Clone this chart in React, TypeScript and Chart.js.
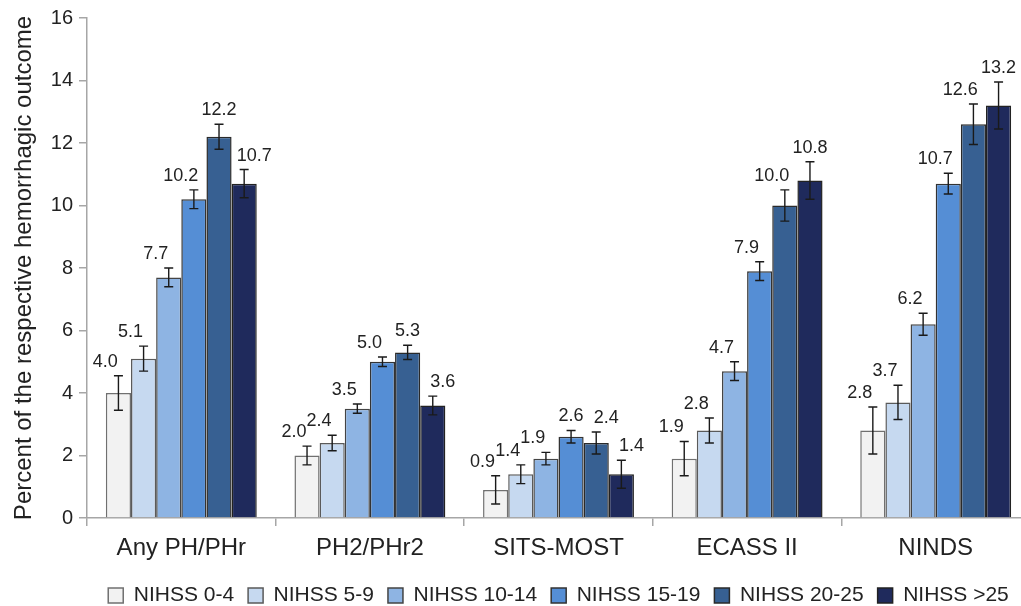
import React, { useEffect, useRef } from 'react';
import { Chart, registerables } from 'chart.js';

Chart.register(...registerables);

const categories = ['Any PH/PHr', 'PH2/PHr2', 'SITS-MOST', 'ECASS II', 'NINDS'];
const seriesLabels = ['NIHSS 0-4', 'NIHSS 5-9', 'NIHSS 10-14', 'NIHSS 15-19', 'NIHSS 20-25', 'NIHSS >25'];

const nihss0to4 = [4.0, 2.0, 0.9, 1.9, 2.8];
const nihss5to9 = [5.1, 2.4, 1.4, 2.8, 3.7];
const nihss10to14 = [7.7, 3.5, 1.9, 4.7, 6.2];
const nihss15to19 = [10.2, 5.0, 2.6, 7.9, 10.7];
const nihss20to25 = [12.2, 5.3, 2.4, 10.0, 12.6];
const nihssOver25 = [10.7, 3.6, 1.4, 10.8, 13.2];

const err0to4 = [0.55, 0.3, 0.45, 0.55, 0.75];
const err5to9 = [0.4, 0.25, 0.3, 0.4, 0.55];
const err10to14 = [0.3, 0.15, 0.2, 0.3, 0.35];
const err15to19 = [0.3, 0.15, 0.2, 0.3, 0.33];
const err20to25 = [0.4, 0.23, 0.35, 0.5, 0.65];
const errOver25 = [0.45, 0.3, 0.45, 0.6, 0.75];

const yMin = 0;
const yMax = 16;
const yStep = 2;

const seriesValues = [nihss0to4, nihss5to9, nihss10to14, nihss15to19, nihss20to25, nihssOver25];
const seriesErrors = [err0to4, err5to9, err10to14, err15to19, err20to25, errOver25];

const fillColors = ['#f2f2f2', '#c6d9f0', '#8eb4e3', '#558ed5', '#376092', '#1f2a5c'];
const edgeColors = ['#707070', '#5a5a5a', '#444444', '#333333', '#2a2a2a', '#222222'];

const errorBarsPlugin = {
  id: 'errorBarsAndLabels',
  afterDatasetsDraw(chart: any) {
    const ctx = chart.ctx;
    const yScale = chart.scales.y;
    const dsets = chart.data.datasets;
    const n = dsets.length;
    dsets.forEach((ds: any, di: number) => {
      const meta = chart.getDatasetMeta(di);
      meta.data.forEach((el: any, i: number) => {
        const v = ds.data[i];
        const e = ds.errors[i];
        const x = el.x;
        const yt = yScale.getPixelForValue(v + e);
        const yb = yScale.getPixelForValue(v - e);
        const cap = 4.5;
        ctx.save();
        ctx.strokeStyle = '#1a1a1a';
        ctx.lineWidth = 1.4;
        ctx.beginPath();
        ctx.moveTo(x, yt);
        ctx.lineTo(x, yb);
        ctx.moveTo(x - cap, yt);
        ctx.lineTo(x + cap, yt);
        ctx.moveTo(x - cap, yb);
        ctx.lineTo(x + cap, yb);
        ctx.stroke();

        const prev = di > 0 ? dsets[di - 1].data[i] : -Infinity;
        const next = di < n - 1 ? dsets[di + 1].data[i] : -Infinity;
        let dx = 0;
        if (next > v) dx = -0.52 * el.width;
        else if (prev > v) dx = 0.4 * el.width;
        ctx.fillStyle = '#222222';
        ctx.font = '18px "Liberation Sans", Arial, sans-serif';
        ctx.textAlign = 'center';
        ctx.textBaseline = 'middle';
        ctx.fillText(v.toFixed(1), x + dx, yt - 14);
        ctx.restore();
      });
    });
  },
};

export default function App() {
  const canvasRef = useRef<HTMLCanvasElement | null>(null);

  useEffect(() => {
    if (!canvasRef.current) return;
    Chart.defaults.font.family = '"Liberation Sans", Arial, sans-serif';
    Chart.defaults.color = '#222222';
    const axisColor = '#a6a6a6';
    const chart = new Chart(canvasRef.current, {
      type: 'bar',
      data: {
        labels: categories,
        datasets: seriesLabels.map((label, k) => ({
          label,
          data: seriesValues[k],
          errors: seriesErrors[k],
          backgroundColor: fillColors[k],
          borderColor: edgeColors[k],
          borderWidth: 1.5,
          categoryPercentage: 0.8,
          barPercentage: 1.0,
        })) as any,
      },
      options: {
        responsive: true,
        maintainAspectRatio: false,
        animation: false,
        layout: { padding: { top: 17, right: 2, left: 0, bottom: 0 } },
        plugins: {
          legend: {
            position: 'bottom',
            fullSize: false,
            labels: {
              boxWidth: 15,
              boxHeight: 15,
              padding: 14,
              font: { size: 21 },
              color: '#222222',
            },
          },
          tooltip: { enabled: false },
        },
        scales: {
          x: {
            grid: {
              offset: true,
              drawOnChartArea: false,
              tickLength: 8,
              color: axisColor,
              lineWidth: 1.5,
            },
            border: { color: axisColor, width: 1.5 },
            ticks: { font: { size: 24 }, color: '#222222', padding: 8 },
            afterFit(scale: any) {
              scale.height = 53;
            },
          },
          y: {
            min: yMin,
            max: yMax,
            ticks: { stepSize: yStep, font: { size: 20 }, color: '#222222', padding: 6 },
            grid: {
              drawOnChartArea: false,
              tickLength: 8,
              color: axisColor,
              lineWidth: 1.5,
            },
            border: { color: axisColor, width: 1.5 },
            title: {
              display: true,
              text: 'Percent of the respective hemorrhagic outcome',
              font: { size: 24 },
              color: '#222222',
              padding: { top: 10, bottom: 0 },
            },
            afterFit(scale: any) {
              scale.width = 87;
            },
          },
        },
      } as any,
      plugins: [errorBarsPlugin],
    });
    return () => chart.destroy();
  }, []);

  return (
    <div style={{ position: 'fixed', left: 0, top: 0, width: 1021, height: 606, overflow: 'hidden', background: '#fff' }}>
      <div style={{ position: 'relative', width: 1032, height: 616 }}>
        <canvas ref={canvasRef} />
      </div>
    </div>
  );
}
